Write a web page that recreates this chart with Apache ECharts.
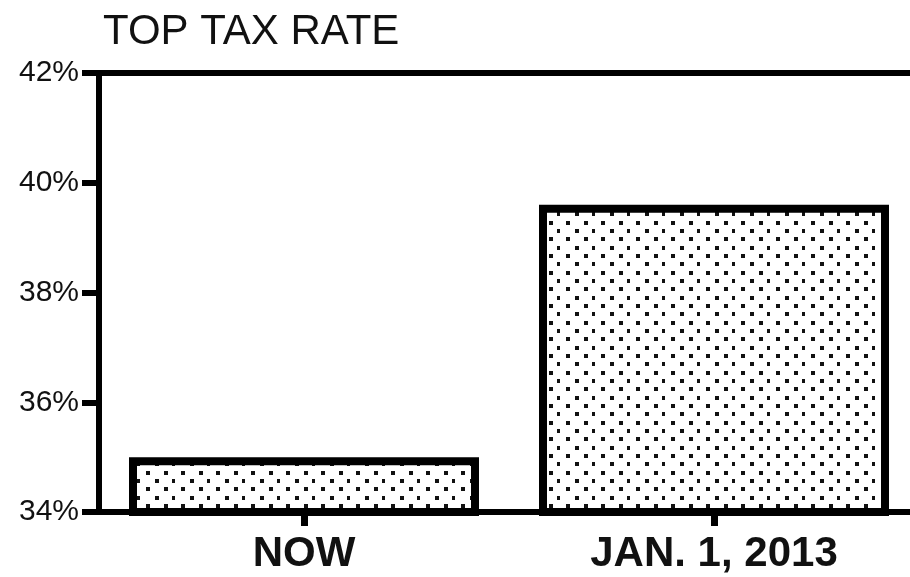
<!DOCTYPE html>
<html>
<head>
<meta charset="utf-8">
<script src="https://cdn.jsdelivr.net/npm/echarts@6/dist/echarts.min.js"></script>
<style>
  html, body { margin: 0; padding: 0; background: #fff; overflow: hidden; }
  /* plot runs off the right edge in the original, so the canvas is a bit wider than the window */
  #main { width: 920px; height: 577px; }
</style>
</head>
<body>
<div id="main"></div>
<script>
var categories = ['NOW', 'JAN. 1, 2013'];
var topRate = [35, 39.6];
var yTicks = [34, 36, 38, 40, 42];

// dotted fill like the print original
function dotPattern() {
  var c = document.createElement('canvas');
  c.width = 35; c.height = 50;
  var ctx = c.getContext('2d');
  ctx.fillStyle = '#fff';
  ctx.fillRect(0, 0, 35, 50);
  ctx.fillStyle = '#111';
  var rows = [0, 8, 17, 25, 33, 42];
  rows.forEach(function (y, i) {
    var xs = i % 2 === 0 ? [6, 24] : [15, 32];
    xs.forEach(function (x) { ctx.fillRect(x, y + 4, 4, 4); });
  });
  return c;
}

var myChart = echarts.init(document.getElementById('main'));

var option = {
  backgroundColor: '#fff',
  animation: false,
  title: {
    text: 'TOP TAX RATE',
    left: 98,
    top: 6,
    textStyle: { fontFamily: 'Liberation Sans', fontSize: 42, fontWeight: 'normal', color: '#111' }
  },
  grid: { left: 99, top: 73, bottom: 65, right: 1 },
  xAxis: [{
    type: 'category',
    data: categories,
    axisLine: { lineStyle: { color: '#000', width: 6 } },
    axisTick: { show: true, alignWithLabel: true, length: 14, lineStyle: { color: '#000', width: 7 } },
    axisLabel: {
      margin: 21,
      fontFamily: 'Liberation Sans',
      fontWeight: 'bold',
      fontSize: 42,
      color: '#111'
    }
  }, {
    type: 'category',
    position: 'top',
    data: categories,
    axisLine: { lineStyle: { color: '#000', width: 6 } },
    axisTick: { show: false },
    axisLabel: { show: false }
  }],
  yAxis: {
    type: 'value',
    min: yTicks[0],
    max: yTicks[yTicks.length - 1],
    interval: 2,
    splitLine: { show: false },
    axisLine: { show: true, lineStyle: { color: '#000', width: 6 } },
    axisTick: { show: true, length: 17, lineStyle: { color: '#000', width: 6 } },
    axisLabel: {
      margin: 20,
      formatter: '{value}%',
      fontFamily: 'Liberation Sans',
      fontSize: 30,
      color: '#111'
    }
  },
  series: [{
    type: 'bar',
    data: topRate,
    barWidth: 350,
    itemStyle: {
      color: { image: dotPattern(), repeat: 'repeat' },
      borderColor: '#000',
      borderWidth: 8
    }
  }]
};

myChart.setOption(option);
</script>
</body>
</html>
